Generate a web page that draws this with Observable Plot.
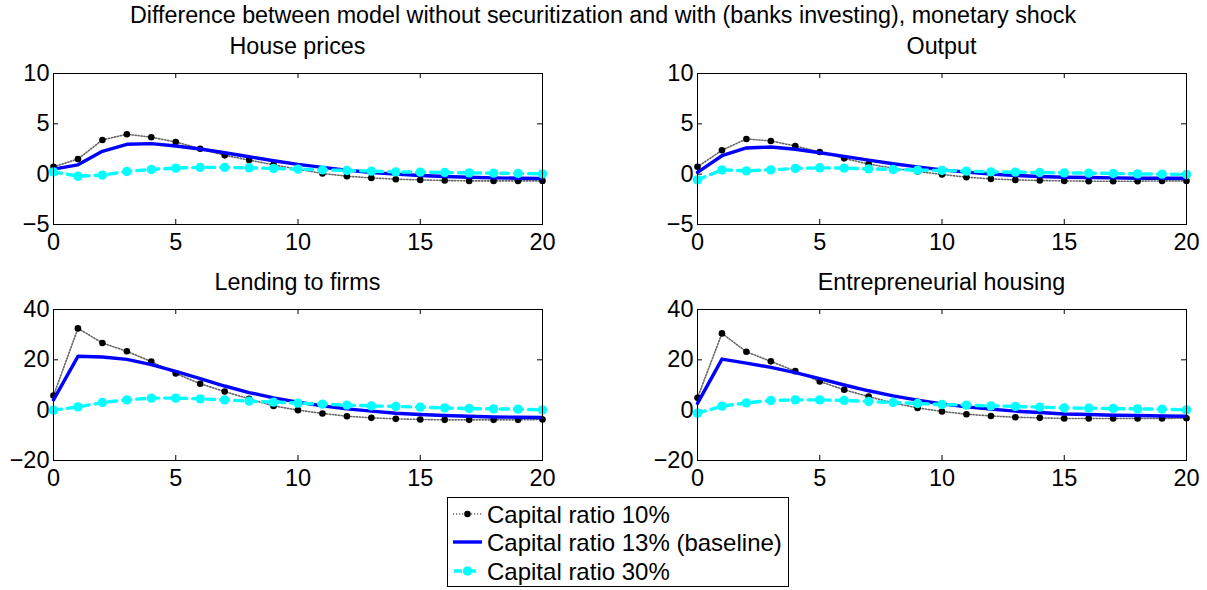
<!DOCTYPE html>
<html>
<head>
<meta charset="utf-8">
<script src="https://cdn.jsdelivr.net/npm/d3@7"></script>
<script src="https://cdn.jsdelivr.net/npm/@observablehq/plot@0.6"></script>
<style>
  html, body { margin: 0; padding: 0; background: #fff; }
  #root { position: relative; width: 1207px; height: 590px; overflow: hidden; background: #fff;
          font-family: "Liberation Sans", Arial, sans-serif; color: #000; }
  .txt { position: absolute; white-space: nowrap; font-size: 23px; line-height: 1.15; transform: translate(-50%, -50%); }
  .panel { position: absolute; }
</style>
</head>
<body>
<div id="root"></div>
<script>
const quarters = [0,1,2,3,4,5,6,7,8,9,10,11,12,13,14,15,16,17,18,19,20];
const xTicks = [0, 5, 10, 15, 20];
const yTicksTop = [-5, 0, 5, 10];
const yTicksBottom = [-20, 0, 20, 40];

const seriesNames = ["Capital ratio 10%", "Capital ratio 13% (baseline)", "Capital ratio 30%"];
const panelTitles = ["House prices", "Output", "Lending to firms", "Entrepreneurial housing"];
const mainTitle = "Difference between model without securitization and with (banks investing), monetary shock";

const housePrices10 = [0.73,1.5,3.4,3.97,3.67,3.2,2.53,1.87,1.4,0.93,0.5,0.07,-0.2,-0.37,-0.5,-0.57,-0.63,-0.67,-0.67,-0.67,-0.67];
const housePrices13 = [0.5,0.93,2.27,2.97,3.03,2.8,2.5,2.13,1.73,1.33,0.97,0.67,0.4,0.17,0,-0.13,-0.23,-0.3,-0.37,-0.4,-0.43];
const housePrices30 = [0.23,-0.2,-0.1,0.27,0.47,0.6,0.67,0.67,0.63,0.57,0.5,0.43,0.37,0.3,0.23,0.2,0.17,0.13,0.1,0.07,0.03];

const output10 = [0.73,2.37,3.5,3.3,2.8,2.2,1.57,1.0,0.6,0.27,-0.03,-0.3,-0.47,-0.57,-0.63,-0.67,-0.7,-0.7,-0.7,-0.67,-0.67];
const output13 = [0.17,1.83,2.6,2.7,2.47,2.13,1.77,1.4,1.03,0.73,0.43,0.2,0,-0.13,-0.23,-0.3,-0.33,-0.37,-0.4,-0.4,-0.4];
const output30 = [-0.57,0.43,0.33,0.43,0.57,0.63,0.6,0.53,0.47,0.4,0.37,0.3,0.23,0.2,0.17,0.13,0.1,0.07,0.03,0,-0.03];

const lending10 = [5.8,32.5,26.7,23.4,19.3,14.6,10.5,7.4,4.5,1.7,0,-1.3,-2.4,-3.05,-3.45,-3.7,-3.85,-3.85,-3.85,-3.85,-3.7];
const lending13 = [4.1,21.4,21.1,20.2,18.1,15.4,12.5,9.6,7.0,4.9,3.2,1.7,0.5,-0.4,-1.2,-1.7,-2.1,-2.4,-2.7,-2.8,-2.9];
const lending30 = [0,1.3,3.05,4.1,4.8,4.8,4.5,4.1,3.6,3.2,2.8,2.4,2.0,1.7,1.5,1.2,0.9,0.66,0.5,0.4,0.13];

const housing10 = [4.9,30.5,23.2,19.4,15.5,11.4,8.1,5.4,2.9,0.9,-0.5,-1.6,-2.3,-2.8,-3.05,-3.3,-3.3,-3.3,-3.3,-3.3,-3.2];
const housing13 = [2.7,20.3,18.7,17.0,14.9,12.5,10.0,7.7,5.7,4.0,2.5,1.3,0.4,-0.4,-0.9,-1.5,-1.7,-2.0,-2.1,-2.3,-2.4];
const housing30 = [-1.2,1.6,2.9,3.85,4.1,4.1,3.85,3.45,3.05,2.65,2.25,2.0,1.7,1.5,1.2,0.9,0.8,0.66,0.5,0.4,0.13];

const FONT = '"Liberation Sans", Arial, sans-serif';
const root = document.getElementById("root");

const AX_W = 489, AX_H = 151;
const ML = 53, MR = 22, MT = 10, MB = 36;
const panels = [
  {title: panelTitles[0], left: 53,  top: 73,  yDomain: [-5, 10],  yTicks: yTicksTop,    s: [housePrices10, housePrices13, housePrices30]},
  {title: panelTitles[1], left: 697, top: 73,  yDomain: [-5, 10],  yTicks: yTicksTop,    s: [output10, output13, output30]},
  {title: panelTitles[2], left: 53,  top: 309, yDomain: [-20, 40], yTicks: yTicksBottom, s: [lending10, lending13, lending30]},
  {title: panelTitles[3], left: 697, top: 309, yDomain: [-20, 40], yTicks: yTicksBottom, s: [housing10, housing13, housing30]}
];

const fmt = d => String(d).replace("-", "\u2212");

function addText(str, x, y, size) {
  const d = document.createElement("div");
  d.className = "txt";
  d.textContent = str;
  d.style.left = x + "px";
  d.style.top = y + "px";
  if (size) d.style.fontSize = size + "px";
  root.appendChild(d);
}

addText(mainTitle, 603, 15, 23.3);

for (const p of panels) {
  const [y0, y1] = p.yDomain;
  const tickLenY = 5 / AX_H * (y1 - y0);
  const tickLenX = 5 / AX_W * 20;
  const rows = p.s.map(arr => quarters.map((q, i) => ({q, v: arr[i]})));

  const chart = Plot.plot({
    width: AX_W + ML + MR,
    height: AX_H + MT + MB,
    marginLeft: ML, marginRight: MR, marginTop: MT, marginBottom: MB,
    style: {fontFamily: FONT, fontSize: "23.5px", background: "transparent", overflow: "visible"},
    x: {domain: [0, 20], ticks: xTicks, tickSize: 0, tickPadding: 9, tickFormat: fmt, label: null},
    y: {domain: p.yDomain, ticks: p.yTicks, tickSize: 0, tickPadding: 4, tickFormat: fmt, label: null},
    marks: [
      Plot.ruleX(xTicks, {x: d => d, y1: y0, y2: y0 + tickLenY, stroke: "#000", strokeWidth: 1}),
      Plot.ruleX(xTicks, {x: d => d, y1: y1, y2: y1 - tickLenY, stroke: "#000", strokeWidth: 1}),
      Plot.ruleY(p.yTicks, {y: d => d, x1: 0, x2: tickLenX, stroke: "#000", strokeWidth: 1}),
      Plot.ruleY(p.yTicks, {y: d => d, x1: 20, x2: 20 - tickLenX, stroke: "#000", strokeWidth: 1}),
      Plot.line(rows[0], {x: "q", y: "v", stroke: "#666", strokeWidth: 1.6, strokeDasharray: "1.2,1.8"}),
      Plot.dot(rows[0], {x: "q", y: "v", r: 3.3, fill: "#000", stroke: "none"}),
      Plot.line(rows[1], {x: "q", y: "v", stroke: "#0000ff", strokeWidth: 3.4}),
      Plot.line(rows[2], {x: "q", y: "v", stroke: "#00ffff", strokeWidth: 3.4, strokeDasharray: "8,6"}),
      Plot.dot(rows[2], {x: "q", y: "v", r: 4.7, fill: "#00ffff", stroke: "none"}),
      Plot.frame({stroke: "#000", strokeWidth: 1})
    ]
  });
  chart.classList.add("panel");
  chart.style.left = (p.left - ML) + "px";
  chart.style.top = (p.top - MT) + "px";
  root.appendChild(chart);

  addText(p.title, p.left + AX_W / 2, p.top - 27, 23.3);
}

const ns = "http://www.w3.org/2000/svg";
const leg = document.createElementNS(ns, "svg");
leg.setAttribute("width", 1207);
leg.setAttribute("height", 590);
leg.style.position = "absolute";
leg.style.left = "0px";
leg.style.top = "0px";
leg.style.pointerEvents = "none";
function el(tag, attrs) {
  const e = document.createElementNS(ns, tag);
  for (const k in attrs) e.setAttribute(k, attrs[k]);
  leg.appendChild(e);
  return e;
}
el("rect", {x: 447.5, y: 497.5, width: 341, height: 89, fill: "#fff", stroke: "#000", "stroke-width": 1});
const rowY = [514, 542, 571];
el("line", {x1: 453, x2: 482, y1: rowY[0], y2: rowY[0], stroke: "#666", "stroke-width": 1.6, "stroke-dasharray": "1.2,1.8"});
el("circle", {cx: 467.5, cy: rowY[0], r: 3.3, fill: "#000"});
el("line", {x1: 453, x2: 482, y1: rowY[1], y2: rowY[1], stroke: "#0000ff", "stroke-width": 3.4});
el("line", {x1: 453, x2: 482, y1: rowY[2], y2: rowY[2], stroke: "#00ffff", "stroke-width": 3.4, "stroke-dasharray": "8,6", "stroke-dashoffset": "-1"});
el("circle", {cx: 467.5, cy: rowY[2], r: 4.7, fill: "#00ffff"});
seriesNames.forEach((name, i) => {
  const t = el("text", {x: 487, y: rowY[i], "dominant-baseline": "central", "font-family": FONT, "font-size": 24, fill: "#000"});
  t.textContent = name;
});
root.appendChild(leg);
</script>
</body>
</html>
